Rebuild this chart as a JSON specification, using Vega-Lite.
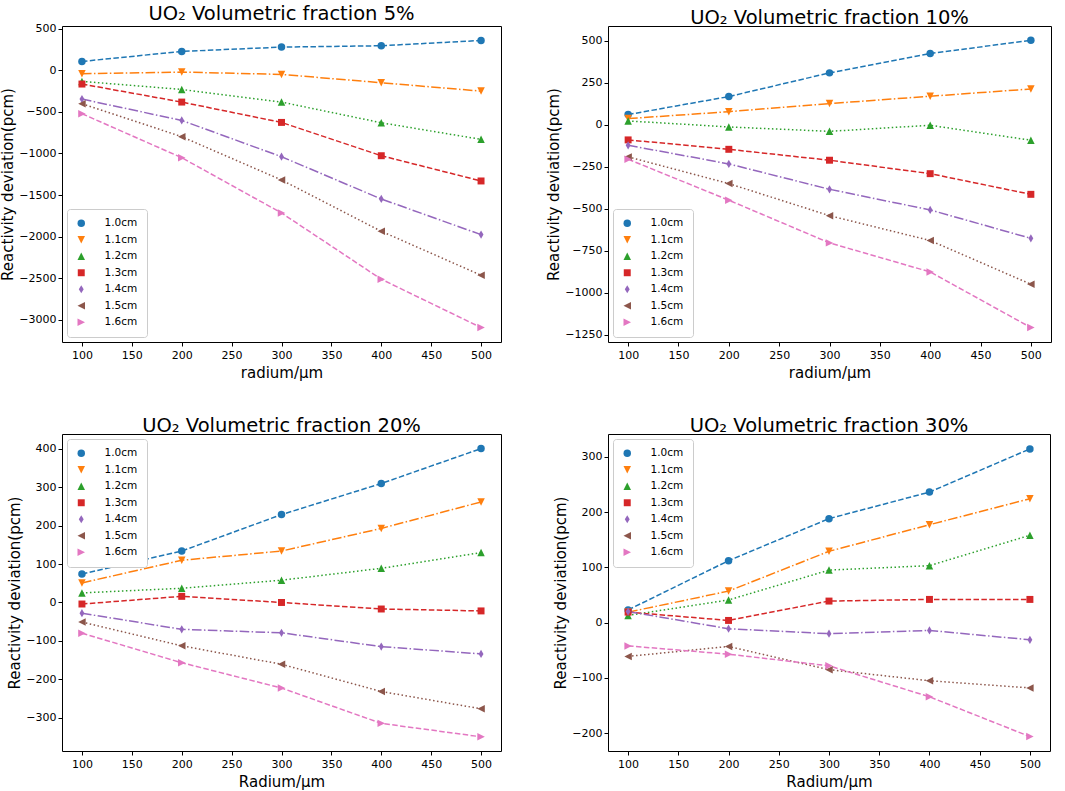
{
  "$schema": "https://vega.github.io/schema/vega-lite/v6.json",
  "background": "white",
  "padding": {"left": 0, "top": 3, "right": 5, "bottom": 0},
  "datasets": {
    "p5": [
      {"r":100,"s":"1.0cm","v":108},{"r":200,"s":"1.0cm","v":229},{"r":300,"s":"1.0cm","v":281},{"r":400,"s":"1.0cm","v":297},{"r":500,"s":"1.0cm","v":361},
      {"r":100,"s":"1.1cm","v":-40},{"r":200,"s":"1.1cm","v":-20},{"r":300,"s":"1.1cm","v":-48},{"r":400,"s":"1.1cm","v":-148},{"r":500,"s":"1.1cm","v":-249},
      {"r":100,"s":"1.2cm","v":-132},{"r":200,"s":"1.2cm","v":-229},{"r":300,"s":"1.2cm","v":-381},{"r":400,"s":"1.2cm","v":-630},{"r":500,"s":"1.2cm","v":-830},
      {"r":100,"s":"1.3cm","v":-164},{"r":200,"s":"1.3cm","v":-381},{"r":300,"s":"1.3cm","v":-626},{"r":400,"s":"1.3cm","v":-1027},{"r":500,"s":"1.3cm","v":-1331},
      {"r":100,"s":"1.4cm","v":-345},{"r":200,"s":"1.4cm","v":-602},{"r":300,"s":"1.4cm","v":-1039},{"r":400,"s":"1.4cm","v":-1548},{"r":500,"s":"1.4cm","v":-1977},
      {"r":100,"s":"1.5cm","v":-401},{"r":200,"s":"1.5cm","v":-798},{"r":300,"s":"1.5cm","v":-1319},{"r":400,"s":"1.5cm","v":-1937},{"r":500,"s":"1.5cm","v":-2466},
      {"r":100,"s":"1.6cm","v":-521},{"r":200,"s":"1.6cm","v":-1051},{"r":300,"s":"1.6cm","v":-1716},{"r":400,"s":"1.6cm","v":-2514},{"r":500,"s":"1.6cm","v":-3096}
    ],
    "p10": [
      {"r":100,"s":"1.0cm","v":62},{"r":200,"s":"1.0cm","v":169},{"r":300,"s":"1.0cm","v":310},{"r":400,"s":"1.0cm","v":425},{"r":500,"s":"1.0cm","v":504},
      {"r":100,"s":"1.1cm","v":38},{"r":200,"s":"1.1cm","v":79},{"r":300,"s":"1.1cm","v":127},{"r":400,"s":"1.1cm","v":171},{"r":500,"s":"1.1cm","v":214},
      {"r":100,"s":"1.2cm","v":24},{"r":200,"s":"1.2cm","v":-12},{"r":300,"s":"1.2cm","v":-38},{"r":400,"s":"1.2cm","v":-2},{"r":500,"s":"1.2cm","v":-91},
      {"r":100,"s":"1.3cm","v":-89},{"r":200,"s":"1.3cm","v":-145},{"r":300,"s":"1.3cm","v":-210},{"r":400,"s":"1.3cm","v":-290},{"r":500,"s":"1.3cm","v":-413},
      {"r":100,"s":"1.4cm","v":-121},{"r":200,"s":"1.4cm","v":-232},{"r":300,"s":"1.4cm","v":-383},{"r":400,"s":"1.4cm","v":-506},{"r":500,"s":"1.4cm","v":-675},
      {"r":100,"s":"1.5cm","v":-190},{"r":200,"s":"1.5cm","v":-349},{"r":300,"s":"1.5cm","v":-540},{"r":400,"s":"1.5cm","v":-688},{"r":500,"s":"1.5cm","v":-948},
      {"r":100,"s":"1.6cm","v":-204},{"r":200,"s":"1.6cm","v":-448},{"r":300,"s":"1.6cm","v":-702},{"r":400,"s":"1.6cm","v":-875},{"r":500,"s":"1.6cm","v":-1206}
    ],
    "p20": [
      {"r":100,"s":"1.0cm","v":74},{"r":200,"s":"1.0cm","v":134},{"r":300,"s":"1.0cm","v":229},{"r":400,"s":"1.0cm","v":310},{"r":500,"s":"1.0cm","v":401},
      {"r":100,"s":"1.1cm","v":51},{"r":200,"s":"1.1cm","v":110},{"r":300,"s":"1.1cm","v":134},{"r":400,"s":"1.1cm","v":193},{"r":500,"s":"1.1cm","v":262},
      {"r":100,"s":"1.2cm","v":25},{"r":200,"s":"1.2cm","v":37},{"r":300,"s":"1.2cm","v":58},{"r":400,"s":"1.2cm","v":89},{"r":500,"s":"1.2cm","v":130},
      {"r":100,"s":"1.3cm","v":-4},{"r":200,"s":"1.3cm","v":16},{"r":300,"s":"1.3cm","v":0},{"r":400,"s":"1.3cm","v":-17},{"r":500,"s":"1.3cm","v":-22},
      {"r":100,"s":"1.4cm","v":-28},{"r":200,"s":"1.4cm","v":-70},{"r":300,"s":"1.4cm","v":-79},{"r":400,"s":"1.4cm","v":-115},{"r":500,"s":"1.4cm","v":-134},
      {"r":100,"s":"1.5cm","v":-51},{"r":200,"s":"1.5cm","v":-113},{"r":300,"s":"1.5cm","v":-161},{"r":400,"s":"1.5cm","v":-232},{"r":500,"s":"1.5cm","v":-277},
      {"r":100,"s":"1.6cm","v":-80},{"r":200,"s":"1.6cm","v":-157},{"r":300,"s":"1.6cm","v":-223},{"r":400,"s":"1.6cm","v":-315},{"r":500,"s":"1.6cm","v":-350}
    ],
    "p30": [
      {"r":100,"s":"1.0cm","v":23},{"r":200,"s":"1.0cm","v":112},{"r":300,"s":"1.0cm","v":188},{"r":400,"s":"1.0cm","v":236},{"r":500,"s":"1.0cm","v":314},
      {"r":100,"s":"1.1cm","v":19},{"r":200,"s":"1.1cm","v":57},{"r":300,"s":"1.1cm","v":129},{"r":400,"s":"1.1cm","v":177},{"r":500,"s":"1.1cm","v":224},
      {"r":100,"s":"1.2cm","v":13},{"r":200,"s":"1.2cm","v":41},{"r":300,"s":"1.2cm","v":95},{"r":400,"s":"1.2cm","v":103},{"r":500,"s":"1.2cm","v":158},
      {"r":100,"s":"1.3cm","v":19},{"r":200,"s":"1.3cm","v":4},{"r":300,"s":"1.3cm","v":39},{"r":400,"s":"1.3cm","v":42},{"r":500,"s":"1.3cm","v":42},
      {"r":100,"s":"1.4cm","v":20},{"r":200,"s":"1.4cm","v":-11},{"r":300,"s":"1.4cm","v":-20},{"r":400,"s":"1.4cm","v":-14},{"r":500,"s":"1.4cm","v":-31},
      {"r":100,"s":"1.5cm","v":-61},{"r":200,"s":"1.5cm","v":-43},{"r":300,"s":"1.5cm","v":-85},{"r":400,"s":"1.5cm","v":-105},{"r":500,"s":"1.5cm","v":-118},
      {"r":100,"s":"1.6cm","v":-42},{"r":200,"s":"1.6cm","v":-57},{"r":300,"s":"1.6cm","v":-78},{"r":400,"s":"1.6cm","v":-134},{"r":500,"s":"1.6cm","v":-206}
    ]
  },
  "columns": 2,
  "spacing": {"row": 34, "column": 44},
  "resolve": {
    "scale": {"color": "independent", "shape": "independent", "strokeDash": "independent"},
    "legend": {"color": "independent", "shape": "independent", "strokeDash": "independent"}
  },
  "concat": [
    {
      "title": "UO₂ Volumetric fraction 5%",
      "width": 439, "height": 316,
      "data": {"name": "p5"},
      "encoding": {
        "x": {"field": "r", "type": "quantitative", "scale": {"domain": [80, 520], "nice": false, "zero": false}, "axis": {"values": [100,150,200,250,300,350,400,450,500], "title": "radium/μm"}},
        "y": {"field": "v", "type": "quantitative", "scale": {"domain": [-3270, 535], "nice": false, "zero": false}, "axis": {"values": [500,0,-500,-1000,-1500,-2000,-2500,-3000], "format": "d", "title": "Reactivity deviation(pcm)"}},
        "color": {"field": "s", "type": "nominal", "scale": {"domain": ["1.0cm","1.1cm","1.2cm","1.3cm","1.4cm","1.5cm","1.6cm"], "range": ["#1f77b4","#ff7f0e","#2ca02c","#d62728","#9467bd","#8c564b","#e377c2"]}, "legend": {"orient": "bottom-left", "title": null}}
      },
      "layer": [
        {"mark": {"type": "line", "strokeWidth": 1.5}, "encoding": {"strokeDash": {"field": "s", "type": "nominal", "scale": {"domain": ["1.0cm","1.1cm","1.2cm","1.3cm","1.4cm","1.5cm","1.6cm"], "range": [[5.5,2.4],[9.6,2.4,1.5,2.4],[1.5,2.5],[5.5,2.4],[9.6,2.4,1.5,2.4],[1.5,2.5],[5.5,2.4]]}, "legend": null}}},
        {"mark": {"type": "point", "filled": true, "size": 56, "opacity": 1}, "encoding": {"shape": {"field": "s", "type": "nominal", "scale": {"domain": ["1.0cm","1.1cm","1.2cm","1.3cm","1.4cm","1.5cm","1.6cm"], "range": ["circle","M-1,-1L1,-1L0,1Z","M0,-1L1,1L-1,1Z","M-0.93,-0.93L0.93,-0.93L0.93,0.93L-0.93,0.93Z","M0,-1.1L0.65,0L0,1.1L-0.65,0Z","M-1,0L1,-1L1,1Z","M1,0L-1,-1L-1,1Z"]}, "legend": null}}}
      ]
    },
    {
      "title": "UO₂ Volumetric fraction 10%",
      "width": 443, "height": 316,
      "data": {"name": "p10"},
      "encoding": {
        "x": {"field": "r", "type": "quantitative", "scale": {"domain": [80, 520], "nice": false, "zero": false}, "axis": {"values": [100,150,200,250,300,350,400,450,500], "title": "radium/μm"}},
        "y": {"field": "v", "type": "quantitative", "scale": {"domain": [-1292, 589], "nice": false, "zero": false}, "axis": {"values": [500,250,0,-250,-500,-750,-1000,-1250], "format": "d", "title": "Reactivity deviation(pcm)"}},
        "color": {"field": "s", "type": "nominal", "scale": {"domain": ["1.0cm","1.1cm","1.2cm","1.3cm","1.4cm","1.5cm","1.6cm"], "range": ["#1f77b4","#ff7f0e","#2ca02c","#d62728","#9467bd","#8c564b","#e377c2"]}, "legend": {"orient": "bottom-left", "title": null}}
      },
      "layer": [
        {"mark": {"type": "line", "strokeWidth": 1.5}, "encoding": {"strokeDash": {"field": "s", "type": "nominal", "scale": {"domain": ["1.0cm","1.1cm","1.2cm","1.3cm","1.4cm","1.5cm","1.6cm"], "range": [[5.5,2.4],[9.6,2.4,1.5,2.4],[1.5,2.5],[5.5,2.4],[9.6,2.4,1.5,2.4],[1.5,2.5],[5.5,2.4]]}, "legend": null}}},
        {"mark": {"type": "point", "filled": true, "size": 56, "opacity": 1}, "encoding": {"shape": {"field": "s", "type": "nominal", "scale": {"domain": ["1.0cm","1.1cm","1.2cm","1.3cm","1.4cm","1.5cm","1.6cm"], "range": ["circle","M-1,-1L1,-1L0,1Z","M0,-1L1,1L-1,1Z","M-0.93,-0.93L0.93,-0.93L0.93,0.93L-0.93,0.93Z","M0,-1.1L0.65,0L0,1.1L-0.65,0Z","M-1,0L1,-1L1,1Z","M1,0L-1,-1L-1,1Z"]}, "legend": null}}}
      ]
    },
    {
      "title": "UO₂ Volumetric fraction 20%",
      "width": 439, "height": 317,
      "data": {"name": "p20"},
      "encoding": {
        "x": {"field": "r", "type": "quantitative", "scale": {"domain": [80, 520], "nice": false, "zero": false}, "axis": {"values": [100,150,200,250,300,350,400,450,500], "title": "Radium/μm"}},
        "y": {"field": "v", "type": "quantitative", "scale": {"domain": [-387, 439], "nice": false, "zero": false}, "axis": {"values": [400,300,200,100,0,-100,-200,-300], "format": "d", "title": "Reactivity deviation(pcm)"}},
        "color": {"field": "s", "type": "nominal", "scale": {"domain": ["1.0cm","1.1cm","1.2cm","1.3cm","1.4cm","1.5cm","1.6cm"], "range": ["#1f77b4","#ff7f0e","#2ca02c","#d62728","#9467bd","#8c564b","#e377c2"]}, "legend": {"orient": "top-left", "title": null}}
      },
      "layer": [
        {"mark": {"type": "line", "strokeWidth": 1.5}, "encoding": {"strokeDash": {"field": "s", "type": "nominal", "scale": {"domain": ["1.0cm","1.1cm","1.2cm","1.3cm","1.4cm","1.5cm","1.6cm"], "range": [[5.5,2.4],[9.6,2.4,1.5,2.4],[1.5,2.5],[5.5,2.4],[9.6,2.4,1.5,2.4],[1.5,2.5],[5.5,2.4]]}, "legend": null}}},
        {"mark": {"type": "point", "filled": true, "size": 56, "opacity": 1}, "encoding": {"shape": {"field": "s", "type": "nominal", "scale": {"domain": ["1.0cm","1.1cm","1.2cm","1.3cm","1.4cm","1.5cm","1.6cm"], "range": ["circle","M-1,-1L1,-1L0,1Z","M0,-1L1,1L-1,1Z","M-0.93,-0.93L0.93,-0.93L0.93,0.93L-0.93,0.93Z","M0,-1.1L0.65,0L0,1.1L-0.65,0Z","M-1,0L1,-1L1,1Z","M1,0L-1,-1L-1,1Z"]}, "legend": null}}}
      ]
    },
    {
      "title": "UO₂ Volumetric fraction 30%",
      "width": 442, "height": 317,
      "data": {"name": "p30"},
      "encoding": {
        "x": {"field": "r", "type": "quantitative", "scale": {"domain": [80, 520], "nice": false, "zero": false}, "axis": {"values": [100,150,200,250,300,350,400,450,500], "title": "Radium/μm"}},
        "y": {"field": "v", "type": "quantitative", "scale": {"domain": [-232, 341], "nice": false, "zero": false}, "axis": {"values": [300,200,100,0,-100,-200], "format": "d", "title": "Reactivity deviation(pcm)"}},
        "color": {"field": "s", "type": "nominal", "scale": {"domain": ["1.0cm","1.1cm","1.2cm","1.3cm","1.4cm","1.5cm","1.6cm"], "range": ["#1f77b4","#ff7f0e","#2ca02c","#d62728","#9467bd","#8c564b","#e377c2"]}, "legend": {"orient": "top-left", "title": null}}
      },
      "layer": [
        {"mark": {"type": "line", "strokeWidth": 1.5}, "encoding": {"strokeDash": {"field": "s", "type": "nominal", "scale": {"domain": ["1.0cm","1.1cm","1.2cm","1.3cm","1.4cm","1.5cm","1.6cm"], "range": [[5.5,2.4],[9.6,2.4,1.5,2.4],[1.5,2.5],[5.5,2.4],[9.6,2.4,1.5,2.4],[1.5,2.5],[5.5,2.4]]}, "legend": null}}},
        {"mark": {"type": "point", "filled": true, "size": 56, "opacity": 1}, "encoding": {"shape": {"field": "s", "type": "nominal", "scale": {"domain": ["1.0cm","1.1cm","1.2cm","1.3cm","1.4cm","1.5cm","1.6cm"], "range": ["circle","M-1,-1L1,-1L0,1Z","M0,-1L1,1L-1,1Z","M-0.93,-0.93L0.93,-0.93L0.93,0.93L-0.93,0.93Z","M0,-1.1L0.65,0L0,1.1L-0.65,0Z","M-1,0L1,-1L1,1Z","M1,0L-1,-1L-1,1Z"]}, "legend": null}}}
      ]
    }
  ],
  "config": {
    "font": "DejaVu Sans",
    "view": {"stroke": "black", "strokeWidth": 1},
    "axis": {"domain": false, "grid": false, "tickColor": "black", "tickSize": 4, "labelColor": "black", "labelFontSize": 11, "labelFont": "DejaVu Sans", "labelPadding": 3, "titleColor": "black", "titleFontSize": 15, "titleFontWeight": "normal", "titleFont": "DejaVu Sans", "titlePadding": 5},
    "axisY": {"labelPadding": 2, "titlePadding": 3},
    "title": {"fontSize": 19.5, "fontWeight": "normal", "font": "DejaVu Sans", "color": "black", "offset": -2},
    "legend": {"strokeColor": "#cccccc", "fillColor": "white", "padding": 9, "cornerRadius": 3, "offset": 5, "labelFontSize": 10.5, "labelFont": "DejaVu Sans", "labelColor": "black", "labelOffset": 18, "symbolSize": 56, "rowPadding": 5.5, "symbolOpacity": 1, "symbolStrokeWidth": 0}
  }
}
